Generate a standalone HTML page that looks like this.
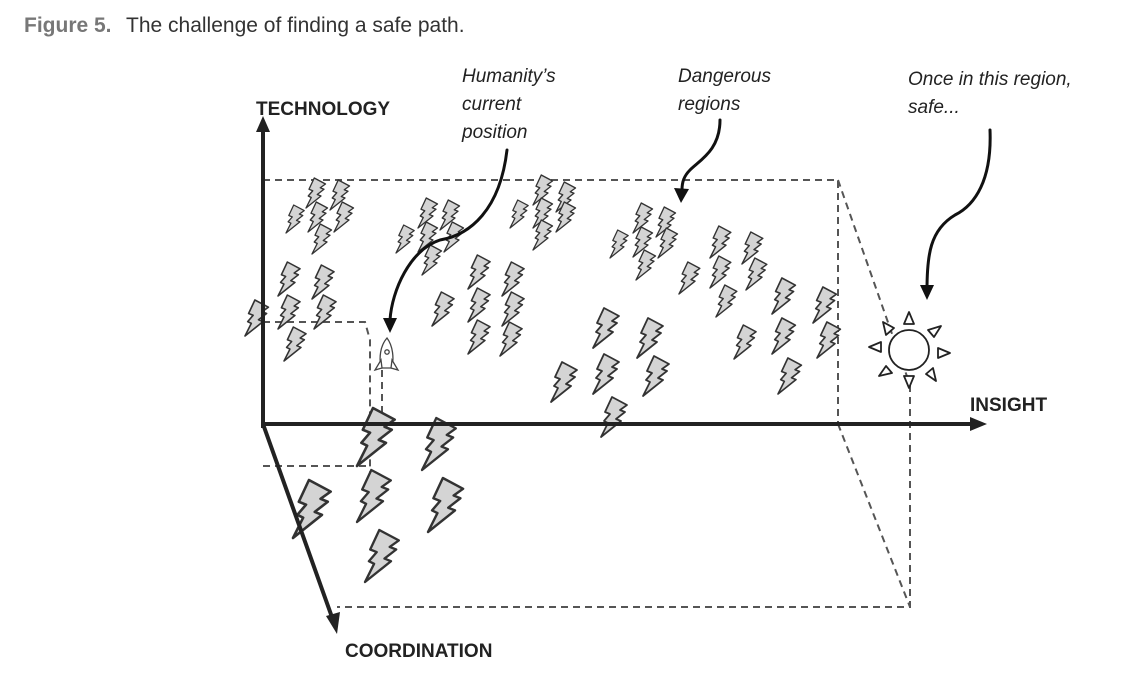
<!DOCTYPE html>
<html><head><meta charset="utf-8"><style>
body{margin:0;background:#fff;}
svg{display:block}
</style></head><body>
<svg width="1138" height="678" viewBox="0 0 1138 678" xmlns="http://www.w3.org/2000/svg">
<defs>
<path id="b" d="M11,0 L26,8 L19,13 L24,15 L15,22 L20,24 L0,40 L7,26 L3,24 L9,17 L4,15 Z" fill="#d4d4d4" stroke="#333" stroke-width="1.8" stroke-linejoin="round"/>
</defs>
<text x="24" y="32" font-family="Liberation Sans, sans-serif" font-size="21" fill="#777" font-weight="bold">Figure 5.</text>
<text x="126" y="32" font-family="Liberation Sans, sans-serif" font-size="21" fill="#333">The challenge of finding a safe path.</text>

<g font-family="Liberation Sans, sans-serif" font-size="19" font-style="italic" fill="#222">
<text x="462" y="82">Humanity’s</text><text x="462" y="110">current</text><text x="462" y="138">position</text>
<text x="678" y="82">Dangerous</text><text x="678" y="110">regions</text>
<text x="908" y="85">Once in this region,</text><text x="908" y="113">safe...</text>
</g>
<g font-family="Liberation Sans, sans-serif" font-size="19" font-weight="bold" fill="#222">
<text x="256" y="115">TECHNOLOGY</text>
<text x="970" y="411">INSIGHT</text>
<text x="345" y="657">COORDINATION</text>
</g>

<g stroke="#555" stroke-width="2" stroke-dasharray="7,5" fill="none">
<path d="M263,180 H838 V424"/>
<path d="M838,180 L910,385"/>
<path d="M910,385 V607 H337"/>
<path d="M838,424 L910,607"/>
<path d="M263,322 H365 L370,340 V500"/>
<path d="M263,466 H370"/>
<path d="M382,370 V440"/>
</g>

<g>
<use href="#b" transform="translate(306,178) scale(0.75)"/>
<use href="#b" transform="translate(330,180) scale(0.75)"/>
<use href="#b" transform="translate(286,205) scale(0.7)"/>
<use href="#b" transform="translate(308,202) scale(0.75)"/>
<use href="#b" transform="translate(334,202) scale(0.75)"/>
<use href="#b" transform="translate(312,224) scale(0.75)"/>
<use href="#b" transform="translate(278,262) scale(0.85)"/>
<use href="#b" transform="translate(312,265) scale(0.85)"/>
<use href="#b" transform="translate(278,295) scale(0.85)"/>
<use href="#b" transform="translate(314,295) scale(0.85)"/>
<use href="#b" transform="translate(284,327) scale(0.85)"/>
<use href="#b" transform="translate(245,300) scale(0.9)"/>
<use href="#b" transform="translate(418,198) scale(0.75)"/>
<use href="#b" transform="translate(440,200) scale(0.75)"/>
<use href="#b" transform="translate(396,225) scale(0.7)"/>
<use href="#b" transform="translate(418,222) scale(0.75)"/>
<use href="#b" transform="translate(444,222) scale(0.75)"/>
<use href="#b" transform="translate(422,245) scale(0.75)"/>
<use href="#b" transform="translate(533,175) scale(0.75)"/>
<use href="#b" transform="translate(556,182) scale(0.75)"/>
<use href="#b" transform="translate(510,200) scale(0.7)"/>
<use href="#b" transform="translate(533,198) scale(0.75)"/>
<use href="#b" transform="translate(556,202) scale(0.75)"/>
<use href="#b" transform="translate(533,220) scale(0.75)"/>
<use href="#b" transform="translate(633,203) scale(0.75)"/>
<use href="#b" transform="translate(656,207) scale(0.75)"/>
<use href="#b" transform="translate(610,230) scale(0.7)"/>
<use href="#b" transform="translate(633,227) scale(0.75)"/>
<use href="#b" transform="translate(658,228) scale(0.75)"/>
<use href="#b" transform="translate(636,250) scale(0.75)"/>
<use href="#b" transform="translate(432,292) scale(0.85)"/>
<use href="#b" transform="translate(468,255) scale(0.85)"/>
<use href="#b" transform="translate(502,262) scale(0.85)"/>
<use href="#b" transform="translate(468,288) scale(0.85)"/>
<use href="#b" transform="translate(502,292) scale(0.85)"/>
<use href="#b" transform="translate(468,320) scale(0.85)"/>
<use href="#b" transform="translate(500,322) scale(0.85)"/>
<use href="#b" transform="translate(593,308) scale(1)"/>
<use href="#b" transform="translate(637,318) scale(1)"/>
<use href="#b" transform="translate(551,362) scale(1)"/>
<use href="#b" transform="translate(593,354) scale(1)"/>
<use href="#b" transform="translate(643,356) scale(1)"/>
<use href="#b" transform="translate(601,397) scale(1)"/>
<use href="#b" transform="translate(679,262) scale(0.8)"/>
<use href="#b" transform="translate(710,226) scale(0.8)"/>
<use href="#b" transform="translate(742,232) scale(0.8)"/>
<use href="#b" transform="translate(710,256) scale(0.8)"/>
<use href="#b" transform="translate(746,258) scale(0.8)"/>
<use href="#b" transform="translate(716,285) scale(0.8)"/>
<use href="#b" transform="translate(734,325) scale(0.85)"/>
<use href="#b" transform="translate(772,278) scale(0.9)"/>
<use href="#b" transform="translate(772,318) scale(0.9)"/>
<use href="#b" transform="translate(778,358) scale(0.9)"/>
<use href="#b" transform="translate(813,287) scale(0.9)"/>
<use href="#b" transform="translate(817,322) scale(0.9)"/>
<use href="#b" transform="translate(357,408) scale(1.45)"/>
<use href="#b" transform="translate(422,418) scale(1.3)"/>
<use href="#b" transform="translate(357,470) scale(1.3)"/>
<use href="#b" transform="translate(428,478) scale(1.35)"/>
<use href="#b" transform="translate(365,530) scale(1.3)"/>
<use href="#b" transform="translate(293,480) scale(1.45)"/>
</g>

<g stroke="#222" stroke-width="4" fill="none">
<path d="M263,428 V128"/>
<path d="M263,424 H972"/>
<path d="M263,424 L333,620"/>
</g>
<polygon points="263,116 256,132 270,132" fill="#222"/>
<polygon points="987,424 970,417 970,431" fill="#222"/>
<polygon points="337,634 326,616 340,612" fill="#222"/>

<g stroke="#444" stroke-width="1.3" fill="#fff">
<path d="M387,338 C380,346 379,358 381,368 L392,368 C394,358 393,346 387,338 Z"/>
<path d="M381,360 L375,370 L382,368 Z"/><path d="M392,360 L398,370 L391,368 Z"/>
<circle cx="387" cy="352" r="2.2"/>
</g>

<g stroke="#111" stroke-width="3" fill="none" stroke-linecap="round">
<path d="M507,150 C500,210 470,235 440,240 C410,250 392,290 390,320"/>
<path d="M720,120 C720,150 700,160 690,170 C684,176 682,182 682,190"/>
<path d="M990,130 C992,180 975,205 955,215 C930,230 927,255 927,290"/>
</g>
<polygon points="390,333 383,318 397,318" fill="#111"/>
<polygon points="681,203 674,188 689,189" fill="#111"/>
<polygon points="927,300 920,285 934,285" fill="#111"/>

<g stroke="#222" stroke-width="1.8" fill="#fff" stroke-linejoin="round">
<circle cx="909" cy="350" r="20"/>
<polygon points="909,312 904,324 914,324"/>
<polygon points="909,388 904,376 914,376"/>
<polygon points="869,347 881,342 881,352"/>
<polygon points="950,353 938,348 938,358"/>
<polygon points="883,322 886,335 894,328"/>
<polygon points="941,326 928,330 934,337"/>
<polygon points="879,376 892,373 886,366"/>
<polygon points="936,381 933,368 926,374"/>
</g>
</svg>
</body></html>
